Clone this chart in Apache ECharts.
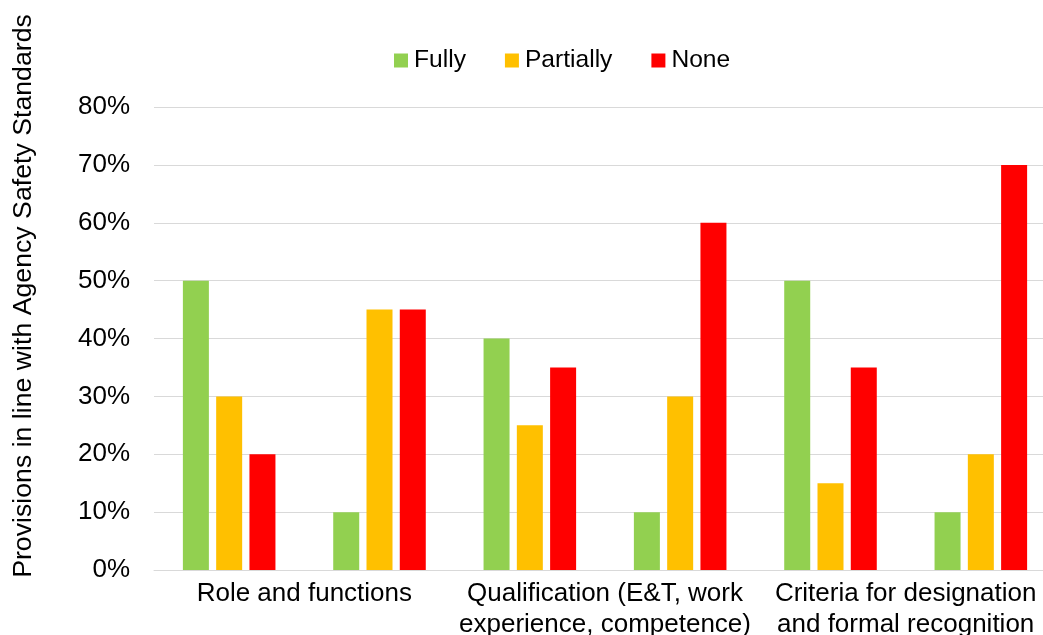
<!DOCTYPE html>
<html>
<head>
<meta charset="utf-8">
<script src="https://cdn.jsdelivr.net/npm/echarts@6/dist/echarts.min.js"></script>
<style>
html,body{margin:0;padding:0;background:#fff;}
#chart{width:1043px;height:635px;}
</style>
</head>
<body>
<div id="chart"></div>
<script>
// Six bar groups; each labelled topic covers two groups
const groups = ['Role and functions (1)', 'Role and functions (2)',
  'Qualification (1)', 'Qualification (2)',
  'Criteria (1)', 'Criteria (2)'];
const topicLabels = ['Role and functions',
  'Qualification (E&T, work\nexperience, competence)',
  'Criteria for designation\nand formal recognition'];
const seriesNames = ['Fully', 'Partially', 'None'];
const fully = [50, 10, 40, 10, 50, 10];
const partially = [30, 45, 25, 30, 15, 20];
const none = [20, 45, 35, 60, 35, 70];
const yTicks = [0, 10, 20, 30, 40, 50, 60, 70, 80];
const yTitle = 'Provisions in line with Agency Safety Standards';

const colors = ['#92D050', '#FFC000', '#FF0000'];
const FONT = '"Liberation Sans", Arial, sans-serif';

const chart = echarts.init(document.getElementById('chart'), null, {renderer: 'canvas'});
const values = [fully, partially, none];

chart.setOption({
  animation: false,
  backgroundColor: '#fff',
  textStyle: {fontFamily: FONT, color: '#000'},
  legend: {
    data: seriesNames,
    left: 394,
    top: 48,
    padding: 0,
    icon: 'rect',
    itemWidth: 14,
    itemHeight: 14,
    itemGap: 39,
    textStyle: {fontSize: 24.6, color: '#000', fontFamily: FONT, padding: [0, 0, 0, 1]}
  },
  grid: {left: 154, width: 902, top: 107, height: 463, containLabel: false, outerBoundsMode: 'none'},
  xAxis: [{
    type: 'category',
    data: groups,
    position: 'bottom',
    axisLine: {show: true, lineStyle: {color: '#D9D9D9', width: 1}},
    axisTick: {show: false},
    axisLabel: {show: false},
    splitLine: {show: false}
  }, {
    type: 'category',
    data: topicLabels,
    position: 'bottom',
    axisLine: {show: false},
    axisTick: {show: false},
    splitLine: {show: false},
    axisLabel: {
      show: true, interval: 0, margin: 8,
      fontSize: 26, lineHeight: 31.5, color: '#000', fontFamily: FONT, align: 'center'
    }
  }],
  yAxis: {
    type: 'value',
    min: yTicks[0],
    max: yTicks[yTicks.length - 1],
    interval: 10,
    axisLine: {show: false},
    axisTick: {show: false},
    axisLabel: {formatter: '{value}%', fontSize: 26, color: '#000', margin: 24, fontFamily: FONT},
    splitLine: {lineStyle: {color: '#D9D9D9', width: 1}}
  },
  graphic: [{
    type: 'text',
    x: 24,
    y: 296,
    rotation: Math.PI / 2,
    style: {
      text: yTitle,
      fontSize: 26.7,
      fontFamily: FONT,
      fill: '#000',
      textAlign: 'center',
      textVerticalAlign: 'middle'
    }
  }],
  series: seriesNames.map((name, i) => ({
    name: name,
    type: 'bar',
    xAxisIndex: 0,
    data: values[i],
    barWidth: 26,
    barGap: '28%',
    itemStyle: {color: colors[i]}
  }))
});
</script>
</body>
</html>
